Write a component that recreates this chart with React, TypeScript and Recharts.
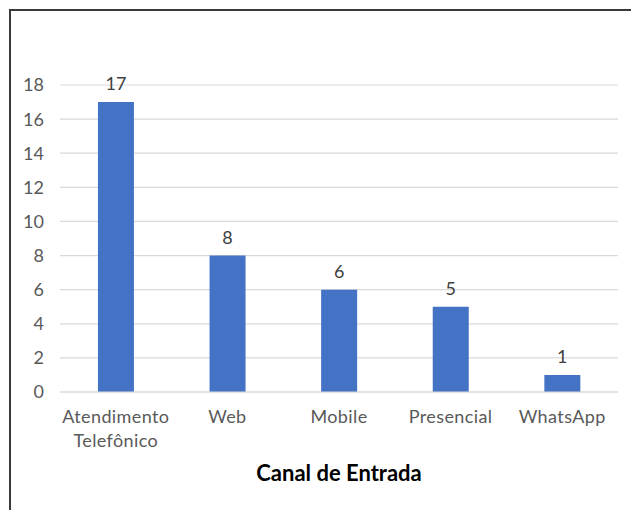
import { BarChart, Bar, XAxis, YAxis, CartesianGrid, LabelList, Label } from 'recharts';

const canais = ['Atendimento Telefônico', 'Web', 'Mobile', 'Presencial', 'WhatsApp'];
const quantidades = [17, 8, 6, 5, 1];
const yTicks = [0, 2, 4, 6, 8, 10, 12, 14, 16, 18];

const FONT = 'Lato, "Liberation Sans", sans-serif';

function CanalTick(props: any) {
  const { x, y, payload } = props;
  const words = String(payload.value).split(' ');
  return (
    <g transform={`translate(${x},${y})`}>
      {words.map((w, i) => (
        <text
          key={i}
          x={0}
          y={i * 24}
          dy={23}
          textAnchor="middle"
          fill="#595959"
          fontSize={18}
          letterSpacing={0.4}
          fontFamily={FONT}
        >
          {w}
        </text>
      ))}
    </g>
  );
}

export default function App() {
  const data = canais.map((canal, i) => ({ canal, total: quantidades[i] }));

  return (
    <div style={{ position: 'absolute', left: 0, top: 0, width: 631, height: 510, overflow: 'hidden', background: '#fff' }}>
      <div
        style={{
          position: 'absolute',
          left: 9,
          top: 9,
          width: 700,
          height: 600,
          border: '2px solid #3a3a3a',
        }}
      />
      <div style={{ position: 'absolute', left: 0, top: 0 }}>
        <BarChart
          width={631}
          height={510}
          data={data}
          margin={{ top: 85, right: 13, left: 0, bottom: 0 }}
          barCategoryGap="34%"
        >
          <CartesianGrid vertical={false} stroke="#d9d9d9" strokeWidth={1.2} />
          <XAxis
            dataKey="canal"
            axisLine={{ stroke: '#d9d9d9', strokeWidth: 1.2 }}
            tickLine={false}
            interval={0}
            tick={<CanalTick />}
            height={118}
          >
            <Label
              value="Canal de Entrada"
              position="insideTop"
              offset={73}
              style={{ fill: '#000', fontSize: 22, fontWeight: 'bold', fontFamily: FONT }}
            />
          </XAxis>
          <YAxis
            domain={[0, 18]}
            ticks={yTicks}
            interval={0}
            width={60}
            axisLine={false}
            tickLine={false}
            tickSize={0}
            tickMargin={16}
            tick={{ fill: '#595959', fontSize: 18, fontFamily: FONT }}
          />
          <Bar dataKey="total" fill="#4472C4" isAnimationActive={false}>
            <LabelList
              dataKey="total"
              position="top"
              offset={12}
              style={{ fill: '#404040', fontSize: 18, fontFamily: FONT }}
            />
          </Bar>
        </BarChart>
      </div>
    </div>
  );
}
